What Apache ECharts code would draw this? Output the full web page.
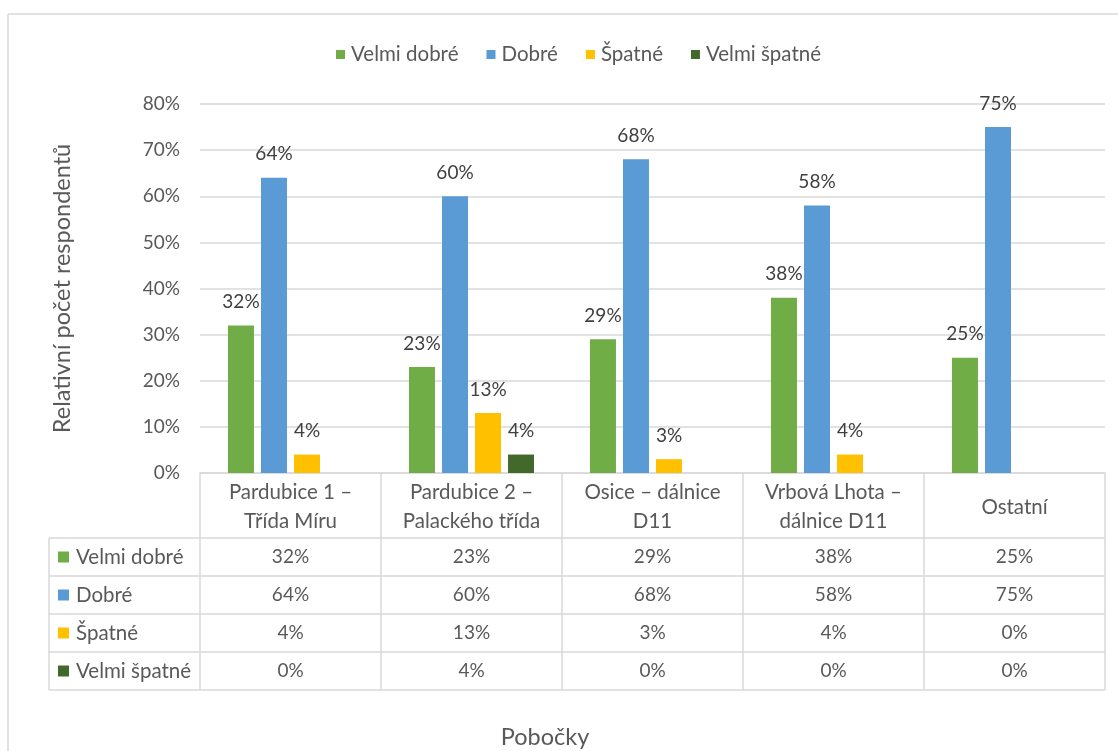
<!DOCTYPE html>
<html>
<head>
<meta charset="utf-8">
<script src="https://cdn.jsdelivr.net/npm/echarts@6/dist/echarts.min.js"></script>
<style>
  html, body { margin: 0; padding: 0; background: #ffffff; }
  #chart { width: 1118px; height: 751px; }
</style>
</head>
<body>
<div id="chart"></div>
<script>
// Branches (header row of the data table doubles as the category axis)
const categories = ['Pardubice 1 –\nTřída Míru', 'Pardubice 2 –\nPalackého třída', 'Osice – dálnice\nD11', 'Vrbová Lhota –\ndálnice D11', 'Ostatní'];

// Share of respondents per rating, in percent
const seriesNames = ['Velmi dobré', 'Dobré', 'Špatné', 'Velmi špatné'];
const velmiDobre  = [32, 23, 29, 38, 25];
const dobre       = [64, 60, 68, 58, 75];
const spatne      = [4, 13, 3, 4, 0];
const velmiSpatne = [0, 4, 0, 0, 0];
const seriesValues = [velmiDobre, dobre, spatne, velmiSpatne];

// Value axis ticks
const yMin = 0, yMax = 80, yStep = 10;

const xTitle = 'Pobočky';
const yTitle = 'Relativní počet respondentů';

const colors = ['#70AD47', '#5B9BD5', '#FFC000', '#43682B'];
const FONT = 'Lato';
const FS_NUM = 19;     // numbers: ticks, data labels, table values
const FS_TXT = 20.5;   // words: legend, category names, row headers
const FS_TITLE = 23.5; // axis titles
const TEXT = '#595959';
const LINE = '#d9d9d9';

const GRID = { left: 200, right: 13, top: 104, bottom: 278 };
const HEADER_H = 65;   // header row of the table
const ROW_H = 38;      // value rows of the table
const TABLE_LEFT = 49;

const chart = echarts.init(document.getElementById('chart'), null, { renderer: 'canvas' });

const option = {
  backgroundColor: '#ffffff',
  animation: false,
  textStyle: { fontFamily: FONT },
  color: colors,
  legend: {
    top: 39,
    left: 331,
    icon: 'rect',
    itemWidth: 9,
    itemHeight: 9,
    itemGap: 28,
    textStyle: { fontFamily: FONT, fontSize: FS_TXT, color: TEXT, padding: [0, 0, 0, 1] },
    data: seriesNames
  },
  grid: Object.assign({ containLabel: false, outerBoundsMode: 'none' }, GRID),
  xAxis: {
    type: 'category',
    data: categories,
    axisLine: { show: true, lineStyle: { color: LINE, width: 1.5 } },
    axisTick: { show: false },
    axisLabel: {
      interval: 0,
      margin: 5,
      verticalAlign: 'top',
      color: TEXT,
      fontFamily: FONT,
      fontSize: FS_TXT,
      formatter: function (v) {
        if (v.indexOf('\n') >= 0) {
          return v.split('\n').map(function (l) { return '{h|' + l + '}'; }).join('\n');
        }
        return '{s|' + v + '}';
      },
      rich: {
        h: { fontFamily: FONT, fontSize: FS_TXT, color: TEXT, lineHeight: 29 },
        s: { fontFamily: FONT, fontSize: FS_TXT, color: TEXT, lineHeight: 58 }
      }
    }
  },
  yAxis: {
    type: 'value',
    min: yMin,
    max: yMax,
    interval: yStep,
    name: yTitle,
    nameLocation: 'middle',
    nameGap: 126,
    nameRotate: 90,
    nameTextStyle: { fontFamily: FONT, fontSize: FS_TITLE, color: TEXT },
    axisLine: { show: false },
    axisTick: { show: false },
    axisLabel: {
      margin: 20,
      color: TEXT,
      fontFamily: FONT,
      fontSize: FS_NUM,
      formatter: '{value}%'
    },
    splitLine: { lineStyle: { color: LINE, width: 1.5 } }
  },
  series: seriesNames.map(function (name, i) {
    return {
      name: name,
      type: 'bar',
      data: seriesValues[i],
      barWidth: 26,
      barGap: '27%',
      itemStyle: { color: colors[i] },
      label: {
        show: true,
        position: 'top',
        distance: 14,
        color: '#404040',
        fontFamily: FONT,
        fontSize: FS_NUM,
        formatter: function (p) { return p.value > 0 ? p.value + '%' : ''; }
      }
    };
  })
};

chart.setOption(option);

// Data table under the axis: rules, row keys and values placed on the category scale
function buildTable() {
  const x0 = chart.convertToPixel({ xAxisIndex: 0 }, 0);
  const x1 = chart.convertToPixel({ xAxisIndex: 0 }, 1);
  const band = x1 - x0;
  const plotLeft = x0 - band / 2;
  const plotRight = plotLeft + band * categories.length;
  const baseY = chart.convertToPixel({ yAxisIndex: 0 }, 0);
  const headerBottom = baseY + HEADER_H;
  const tableBottom = headerBottom + ROW_H * seriesNames.length;
  const els = [];
  const lineStyle = { stroke: LINE, lineWidth: 1.5 };

  // frame around the chart area
  els.push({ type: 'line', shape: { x1: 8, y1: 14, x2: 1118, y2: 14 }, style: { stroke: LINE, lineWidth: 1.5 }, silent: true });
  els.push({ type: 'line', shape: { x1: 8, y1: 14, x2: 8, y2: 751 }, style: { stroke: LINE, lineWidth: 1.5 }, silent: true });

  // horizontal rules
  for (let r = 0; r <= seriesNames.length; r++) {
    const y = headerBottom + r * ROW_H;
    els.push({ type: 'line', shape: { x1: TABLE_LEFT, y1: y, x2: plotRight, y2: y }, style: lineStyle, silent: true });
  }
  // vertical rules
  els.push({ type: 'line', shape: { x1: TABLE_LEFT, y1: headerBottom, x2: TABLE_LEFT, y2: tableBottom }, style: lineStyle, silent: true });
  for (let c = 0; c <= categories.length; c++) {
    const x = plotLeft + c * band;
    els.push({ type: 'line', shape: { x1: x, y1: baseY, x2: x, y2: tableBottom }, style: lineStyle, silent: true });
  }

  // row headers with colour keys, and cell values
  seriesNames.forEach(function (name, i) {
    const cy = headerBottom + (i + 0.5) * ROW_H;
    els.push({ type: 'rect', shape: { x: 58, y: cy - 5.5, width: 11, height: 11 }, style: { fill: colors[i] }, silent: true });
    els.push({ type: 'text', x: 76, y: cy, style: { text: name, fill: TEXT, font: FS_TXT + 'px ' + FONT, textAlign: 'left', textVerticalAlign: 'middle' }, silent: true });
    seriesValues[i].forEach(function (v, j) {
      const cx = chart.convertToPixel({ xAxisIndex: 0 }, j);
      els.push({ type: 'text', x: cx, y: cy, style: { text: v + '%', fill: TEXT, font: FS_NUM + 'px ' + FONT, textAlign: 'center', textVerticalAlign: 'middle' }, silent: true });
    });
  });

  // category axis title below the table
  els.push({ type: 'text', x: 545, y: 737, style: { text: xTitle, fill: TEXT, font: FS_TITLE + 'px ' + FONT, textAlign: 'center', textVerticalAlign: 'middle' }, silent: true });

  chart.setOption({ graphic: { elements: els } });
}

buildTable();
</script>
</body>
</html>
